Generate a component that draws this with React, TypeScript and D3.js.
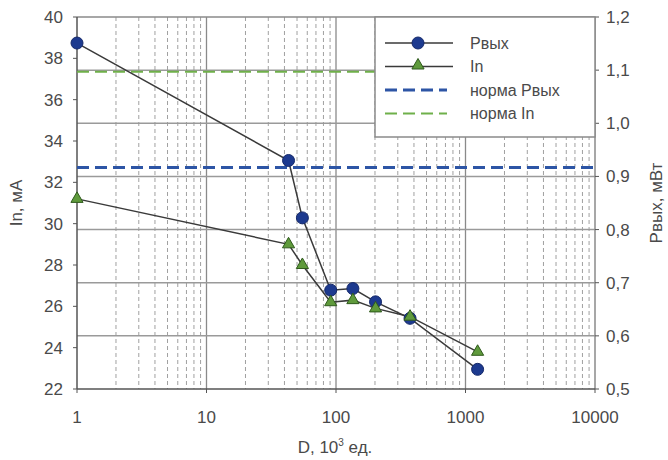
import React from 'react';
import * as d3 from 'd3';

// D, 10^3 units
const doses = [1, 43, 55, 91, 135, 202, 373, 1240];
// Pвых, mW (right axis)
const pOut = [1.151, 0.93, 0.822, 0.686, 0.689, 0.664, 0.633, 0.537];
// In, mA (left axis)
const iIn = [31.2, 29.0, 28.0, 26.2, 26.3, 25.9, 25.5, 23.8];
const pOutNorm = 0.917;
const iInNorm = 37.35;

const xTicks = [1, 10, 100, 1000, 10000];
const leftTicks = [22, 24, 26, 28, 30, 32, 34, 36, 38, 40];
const rightTicks = [0.5, 0.6, 0.7, 0.8, 0.9, 1.0, 1.1, 1.2];

const legendItems = [
	{ label: 'Pвых', kind: 'circle' },
	{ label: 'In', kind: 'triangle' },
	{ label: 'норма Pвых', kind: 'blueDash' },
	{ label: 'норма In', kind: 'greenDash' },
];

const dim = { l: 77, r: 595, t: 17, b: 389 };
const font = '"Liberation Sans", Arial, sans-serif';
const blue = '#1d3a8f';
const green = '#5f9a3c';
const lineCol = '#3a3a3a';
const txt = '#4a4a4a';

const Circle = ({ x, y }) => <circle cx={x} cy={y} r={6} fill={blue} stroke="#15296a" strokeWidth={1} />;

const Tri = ({ x, y }) => {
	const p = d3.symbol(d3.symbolTriangle, 64)();
	return <path d={p} transform={`translate(${x},${y})`} fill={green} stroke="#2f5a1c" strokeWidth={1} />;
};

const App = () => {
	const x = d3.scaleLog().domain([1, 10000]).range([dim.l, dim.r]);
	const yL = d3.scaleLinear().domain([22, 40]).range([dim.b, dim.t]);
	const yR = d3.scaleLinear().domain([0.5, 1.2]).range([dim.b, dim.t]);

	const minor = [];
	for (let dec = 1; dec < 10000; dec *= 10) {
		for (let k = 2; k <= 9; k++) minor.push(dec * k);
	}

	const pLine = d3.line().x((d, i) => x(doses[i])).y(d => yR(d));
	const iLine = d3.line().x((d, i) => x(doses[i])).y(d => yL(d));
	const fmt = v => d3.format('.1f')(v).replace('.', ',');

	const lg = { x: 375, y: 17, w: 220, h: 120 };

	return (
		<svg width={668} height={460} style={{ position: 'absolute', left: 0, top: 0, background: '#fff' }} fontFamily={font}>
			<rect x={0} y={0} width={668} height={460} fill="#fff" />
			{/* minor vertical grid */}
			{minor.map(m => (
				<line key={'m' + m} x1={x(m)} x2={x(m)} y1={dim.t} y2={dim.b} stroke="#a0a0a0" strokeWidth={1} strokeDasharray="4,3" />
			))}
			{/* major vertical grid */}
			{xTicks.slice(1, -1).map(t => (
				<line key={'M' + t} x1={x(t)} x2={x(t)} y1={dim.t} y2={dim.b} stroke="#8a8a8a" strokeWidth={1.3} />
			))}
			{/* horizontal grid */}
			{rightTicks.slice(1, -1).map(t => (
				<line key={'h' + t} x1={dim.l} x2={dim.r} y1={yR(t)} y2={yR(t)} stroke="#9a9a9a" strokeWidth={1.5} />
			))}
			{/* frame */}
			<line x1={dim.l} x2={dim.r} y1={dim.t} y2={dim.t} stroke="#8a8a8a" strokeWidth={1.5} />
			<line x1={dim.r} x2={dim.r} y1={dim.t} y2={dim.b} stroke="#8a8a8a" strokeWidth={1.5} />
			<line x1={dim.l} x2={dim.l} y1={dim.t} y2={dim.b} stroke="#555" strokeWidth={1.5} />
			<line x1={dim.l} x2={dim.r} y1={dim.b} y2={dim.b} stroke="#555" strokeWidth={1.5} />

			{/* norm lines */}
			<line x1={dim.l} x2={dim.r} y1={yR(pOutNorm)} y2={yR(pOutNorm)} stroke="#2d55a5" strokeWidth={3} strokeDasharray="12,6" />
			<line x1={dim.l} x2={dim.r} y1={yL(iInNorm)} y2={yL(iInNorm)} stroke="#6fb04a" strokeWidth={2} strokeDasharray="12,6" />

			{/* series */}
			<path d={pLine(pOut)} fill="none" stroke={lineCol} strokeWidth={1.5} />
			<path d={iLine(iIn)} fill="none" stroke={lineCol} strokeWidth={1.5} />
			{pOut.map((d, i) => <Circle key={'c' + i} x={x(doses[i])} y={yR(d)} />)}
			{iIn.map((d, i) => <Tri key={'t' + i} x={x(doses[i])} y={yL(d)} />)}

			{/* left axis */}
			{leftTicks.map(t => (
				<g key={'l' + t}>
					<line x1={dim.l - 4} x2={dim.l} y1={yL(t)} y2={yL(t)} stroke="#555" />
					<text x={dim.l - 14} y={yL(t)} dy="0.35em" textAnchor="end" fontSize={17} fill={txt}>{t}</text>
				</g>
			))}
			{/* right axis */}
			{rightTicks.map(t => (
				<g key={'r' + t}>
					<line x1={dim.r} x2={dim.r + 4} y1={yR(t)} y2={yR(t)} stroke="#555" />
					<text x={dim.r + 11} y={yR(t)} dy="0.35em" textAnchor="start" fontSize={17} fill={txt}>{fmt(t)}</text>
				</g>
			))}
			{/* bottom axis */}
			{xTicks.map(t => (
				<g key={'b' + t}>
					<line x1={x(t)} x2={x(t)} y1={dim.b} y2={dim.b + 4} stroke="#555" />
					<text x={x(t)} y={dim.b + 34} textAnchor="middle" fontSize={17} fill={txt}>{t}</text>
				</g>
			))}

			{/* axis titles */}
			<text x={335} y={453} textAnchor="middle" fontSize={17} fill={txt}>
				D, 10<tspan dy={-7} fontSize={10}>3</tspan><tspan dy={7}> ед.</tspan>
			</text>
			<text transform={`translate(22,${(dim.t + dim.b) / 2}) rotate(-90)`} textAnchor="middle" fontSize={17} fill={txt}>In, мА</text>
			<text transform={`translate(662,${(dim.t + dim.b) / 2}) rotate(-90)`} textAnchor="middle" fontSize={17} fill={txt}>Pвых, мВт</text>

			{/* legend */}
			<rect x={lg.x} y={lg.y} width={lg.w} height={lg.h} fill="#fff" stroke="#8a8a8a" strokeWidth={1.5} />
			{legendItems.map((it, i) => {
				const cy = 43 + i * 23.5;
				return (
					<g key={it.label}>
						{it.kind === 'circle' && (
							<g>
								<line x1={385} x2={453} y1={cy} y2={cy} stroke={lineCol} strokeWidth={1.5} />
								<Circle x={418} y={cy} />
							</g>
						)}
						{it.kind === 'triangle' && (
							<g>
								<line x1={385} x2={453} y1={cy} y2={cy} stroke={lineCol} strokeWidth={1.5} />
								<Tri x={418} y={cy - 1} />
							</g>
						)}
						{it.kind === 'blueDash' && <line x1={385} x2={447} y1={cy} y2={cy} stroke="#2d55a5" strokeWidth={3} strokeDasharray="12,6" />}
						{it.kind === 'greenDash' && <line x1={385} x2={447} y1={cy} y2={cy} stroke="#6fb04a" strokeWidth={2} strokeDasharray="12,6" />}
						<text x={470} y={cy} dy="0.35em" fontSize={16} fill={txt}>{it.label}</text>
					</g>
				);
			})}
		</svg>
	);
};

export default App;
